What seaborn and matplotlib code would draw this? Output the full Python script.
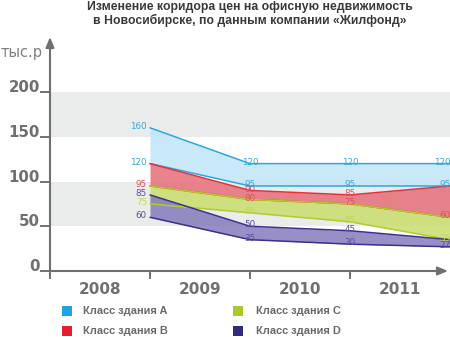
import numpy as np
import pandas as pd
import seaborn as sns
import matplotlib
matplotlib.use("Agg")
import matplotlib.pyplot as plt
from matplotlib.patches import Rectangle

# ---------------- data ----------------
years = ["2008", "2009", "2010", "2011"]
classes = ["A", "B", "C", "D"]
legend_labels = ["Класс здания A", "Класс здания B", "Класс здания C", "Класс здания D"]
a_hi = [160, 120, 120, 120]
a_lo = [120, 95, 95, 95]
b_hi = [120, 90, 85, 95]
b_lo = [95, 80, 75, 60]
c_hi = [95, 80, 75, 60]
c_lo = [75, 65, 55, 35]
d_hi = [85, 50, 45, 35]
d_lo = [60, 35, 30, 27]
y_ticks = [0, 50, 100, 150, 200]
title = "Изменение коридора цен на офисную недвижимость\nв Новосибирске, по данным компании «Жилфонд»"
y_unit = "тыс.р"

# which value labels are printed (series, bound) -> year indices
label_spec = {
    ("A", "hi"): [0, 1, 2, 3], ("A", "lo"): [0, 1, 2, 3],
    ("B", "hi"): [1, 2], ("B", "lo"): [0, 1, 2, 3],
    ("C", "lo"): [0, 1, 2, 3],
    ("D", "hi"): [0, 1, 2], ("D", "lo"): [0, 1, 2, 3],
}

# ---------------- styles ----------------
line_col = {"A": "#2aa8e0", "B": "#e3313d", "C": "#b2cc2e", "D": "#3d3190"}
fill_col = {"A": "#c4e6f8", "B": "#e6737c", "C": "#c9dd6c", "D": "#8077b9"}
fill_alpha = {"A": 0.9, "B": 0.88, "C": 0.85, "D": 0.82}
text_col = {"A": "#35a9dd", "B": "#e0505c", "C": "#c0d65a", "D": "#5a4e9c"}
legend_col = {"A": "#1ba3e2", "B": "#e41f2b", "C": "#a9c82a", "D": "#302a82"}
axis_grey = "#707070"

series = {"A": (a_hi, a_lo), "B": (b_hi, b_lo), "C": (c_hi, c_lo), "D": (d_hi, d_lo)}

rows = []
for k, (hi, lo) in series.items():
    for i in range(len(years)):
        rows.append(dict(x=i + 1, value=hi[i], series=k, bound="hi"))
        rows.append(dict(x=i + 1, value=lo[i], series=k, bound="lo"))
df = pd.DataFrame(rows)

sns.set_style("white")
plt.rcParams["font.family"] = ["DejaVu Sans"]

W, H = 450, 337
fig = plt.figure(figsize=(W / 100, H / 100), dpi=100)
ax_l, ax_r, ax_b, ax_t = 50, 450, 271, 37
ax = fig.add_axes([ax_l / W, (H - ax_b) / H, (ax_r - ax_l) / W, (ax_b - ax_t) / H])
ax.set_xlim(0, 4)
ax.set_ylim(0, (ax_b - ax_t) / 0.895)

# grey bands
ax.axhspan(50, 100, color="#eaebeb", lw=0, zorder=0)
ax.axhspan(150, 200, color="#eaebeb", lw=0, zorder=0)

# fills
xs = np.arange(1, len(years) + 1)
for z, k in enumerate(classes):
    hi, lo = series[k]
    ax.fill_between(xs, lo, hi, color=fill_col[k], alpha=fill_alpha[k], lw=0, zorder=1 + z)

# lines
sns.lineplot(data=df, x="x", y="value", hue="series", style="bound",
             palette=line_col, dashes=False, markers=False, estimator=None,
             legend=False, lw=1.1, ax=ax, zorder=6)

# value labels
for (k, b), idxs in label_spec.items():
    hi, lo = series[k]
    vals = hi if b == "hi" else lo
    for i in idxs:
        x = i + 1
        if i == 0:
            ha, xx = "right", x - 0.03
        elif i == len(years) - 1:
            ha, xx = "right", x + 0.005
        else:
            ha, xx = "center", x
        ax.text(xx, vals[i] + 1.5, str(vals[i]), ha=ha, va="center",
                fontsize=6.3, color=text_col[k], zorder=8)

# axes styling
for s in ax.spines.values():
    s.set_visible(False)
ax.set_xlabel("")
ax.set_ylabel("")
ax.set_yticks(y_ticks)
ax.set_yticklabels([str(v) for v in y_ticks], va="baseline", fontsize=10.8,
                   fontweight="bold", color=axis_grey)
ax.tick_params(axis="y", direction="out", length=7.2, width=1.4, color=axis_grey, pad=0, left=True)
ax.set_xticks([0, 1, 2, 3])
ax.set_xticklabels([])
ax.set_xticks(np.arange(len(years)) + 0.5, minor=True)
ax.set_xticklabels(years, minor=True, fontsize=11, fontweight="bold", color=axis_grey)
ax.tick_params(axis="x", which="major", direction="out", length=5.5, width=1.4,
               color=axis_grey, bottom=True)
ax.tick_params(axis="x", which="minor", length=0, pad=8)

# arrow axes
ax.annotate("", xy=(0, 1.0), xytext=(0, 0), xycoords="axes fraction",
            arrowprops=dict(arrowstyle="-|>,head_length=0.6,head_width=0.25", color=axis_grey,
                            lw=1.5, shrinkA=0, shrinkB=0), annotation_clip=False, zorder=10)
ax.annotate("", xy=(0.995, 0), xytext=(0, 0), xycoords="axes fraction",
            arrowprops=dict(arrowstyle="-|>,head_length=0.6,head_width=0.25", color=axis_grey,
                            lw=1.5, shrinkA=0, shrinkB=0), annotation_clip=False, zorder=10)

fig.text(1 / W, 1 - 52 / H, y_unit, ha="left", va="center", fontsize=10.5, color="#808080")

fig.text(250 / W, 1 - 14 / H, title, ha="center", va="center", fontsize=8.8,
         fontweight="bold", color="#3a3a3a", family=["Liberation Sans"], linespacing=1.1)

# legend
leg_pos = [(62, 306, 83), (62, 326, 83), (233, 306, 256), (233, 326, 256)]
for k, lab, (sx, sy, tx) in zip(classes, legend_labels, leg_pos):
    fig.add_artist(Rectangle((sx / W, 1 - (sy + 10) / H), 10 / W, 10 / H,
                             transform=fig.transFigure, color=legend_col[k], lw=0))
    fig.text(tx / W, 1 - (sy + 5) / H, lab, ha="left", va="center", fontsize=7.9,
             fontweight="bold", color="#6a6a6a", family=["Liberation Sans"])

fig.savefig("out.png", dpi=100)
